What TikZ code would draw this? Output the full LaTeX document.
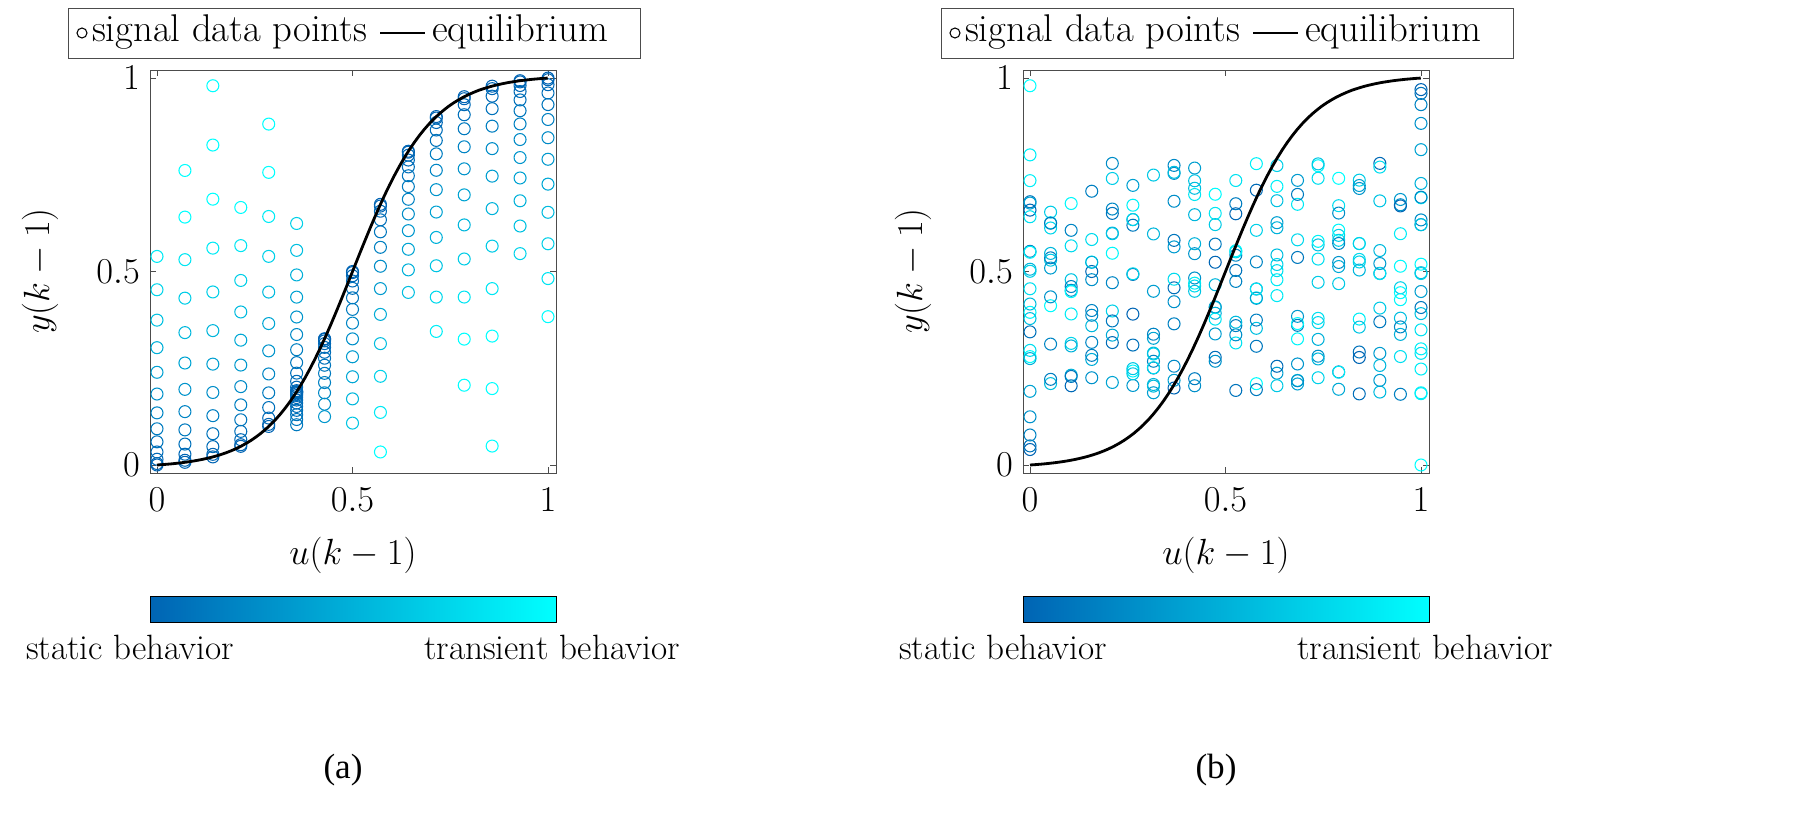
\documentclass[tikz,border=0pt]{standalone}
\usepackage{fontspec}
\newfontfamily\capfont{Liberation Serif}
\usetikzlibrary{positioning}
\definecolor{statc}{RGB}{0,100,180}
\definecolor{transc}{RGB}{0,255,255}
\tikzset{
  axbox/.style={draw=black!70, line width=0.5pt},
  eqline/.style={black, line width=1.6pt},
  datapt/.style={line width=0.6pt},
  ticklab/.style={font=\fontsize{21}{25}\selectfont},
  leglab/.style={font=\fontsize{22}{26}\selectfont, inner sep=1pt},
  barlab/.style={font=\fontsize{20}{24}\selectfont},
}
\pgfmathdeclarefunction{eq}{1}{\pgfmathparse{(1/(1+exp(-10*(#1-0.5)))-0.0066929)/0.9866143}}
\begin{document}
\begin{tikzpicture}[x=0.02cm, y=-0.02cm]
\useasboundingbox (0,0) rectangle (1800,825);

% two panels, offset in pixels
\foreach \ox/\lab [count=\p] in {0/a, 873/b} {
  \begin{scope}[xshift=\ox*0.02cm]
    % legend
    \draw[axbox, fill=white] (68,8) rectangle (640,58);
    \draw[datapt] (82,33) circle (5);
    \node[leglab, anchor=west] (legpts\p) at (90,32) {signal data points};
    \draw[eqline] (380,33) -- (425,33);
    \node[leglab, anchor=west] (legeq\p) at (430,32) {equilibrium};
    % axis box and ticks
    \draw[axbox] (150,70) rectangle (556,473);
    \foreach \t/\tl in {0/0, 0.5/0.5, 1/1} {
      \draw[black!70] ({157+391*\t},473) -- ++(0,-6);
      \draw[black!70] ({157+391*\t},70) -- ++(0,6);
      \draw[black!70] (150,{465-387*\t}) -- ++(6,0);
      \draw[black!70] (556,{465-387*\t}) -- ++(-6,0);
      \node[ticklab] at ({157+391*\t},500) {$\tl$};
      \node[ticklab, anchor=east] at (146,{465-387*\t}) {$\tl$};
    }
    \node[ticklab] (xlab\p) at (353,555) {$u(k-1)$};
    \node[ticklab, rotate=90] (ylab\p) at (40,271) {$y(k-1)$};
    % colour bar
    \shade[left color=statc, right color=transc] (150,596) rectangle (556,622);
    \draw[black] (150,596) rectangle (556,622);
    \node[barlab, anchor=west] (stat\p) at (20,647) {static behavior};
    \node[barlab, anchor=east] (trans\p) at (686,647) {transient behavior};
    \node[font=\capfont\fontsize{20}{24}\selectfont] (cap\p) at (343,770) {(\lab)};
  \end{scope}
}

% panel (a): data on a grid of inputs
\foreach \i in {0,...,14} {
  \pgfmathsetmacro\u{\i/14}
  \pgfmathsetmacro\f{eq(\u)}
  \pgfmathsetmacro\top{\f+(0.98-\f)*(0.55+0.45*mod(\i*7,5)/4)}
  \pgfmathsetmacro\bot{\f*(0.05+0.5*mod(\i*3,4)/3)}
  \foreach \j in {0,...,12} {
    \pgfmathsetmacro\ya{\f+(\top-\f)*(\j/12)^2}
    \pgfmathsetmacro\yb{\f-(\f-\bot)*(\j/12)^2}
    \pgfmathsetmacro\ca{min(100,abs(\ya-\f)*160)}
    \pgfmathsetmacro\cb{min(100,abs(\yb-\f)*160)}
    \ifnum\i<6
      \draw[datapt, color=transc!\ca!statc] ({157+391*\u},{465-387*\ya}) circle (6);
    \fi
    \ifnum\i>4
      \draw[datapt, color=transc!\cb!statc] ({157+391*\u},{465-387*\yb}) circle (6);
    \fi
  }
}

% panel (b): scattered data
\pgfmathsetseed{42}
\foreach \i in {0,...,19} {
  \pgfmathsetmacro\u{\i/19}
  \foreach \j in {1,...,13} {
    \pgfmathsetmacro\yy{0.48+0.3*rand}
    \pgfmathsetmacro\cc{50+50*rand}
    \draw[datapt, color=transc!\cc!statc] ({1030+391*\u},{465-387*\yy}) circle (6);
  }
}
\foreach \j in {0,...,10} {
  \draw[datapt, color=transc!\j0!statc] (1030,{465-387*(0.04+0.94*(\j/10)^2)}) circle (6);
  \draw[datapt, color=transc!\j0!statc] (1421,{465-387*(0.97-0.97*(\j/10)^2)}) circle (6);
}

% equilibrium curves
\draw[eqline] plot[domain=0:1, samples=80] ({157+391*\x},{465-387*eq(\x)});
\draw[eqline] plot[domain=0:1, samples=80] ({1030+391*\x},{465-387*eq(\x)});
\end{tikzpicture}
\end{document}
